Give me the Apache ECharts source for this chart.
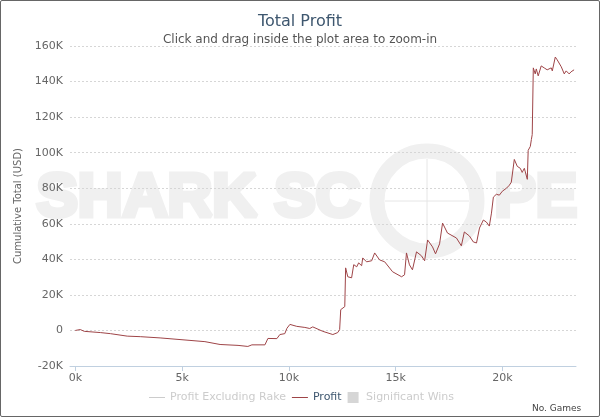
<!DOCTYPE html>
<html>
<head>
<meta charset="utf-8">
<title>Total Profit</title>
<script src="https://cdn.jsdelivr.net/npm/echarts@6/dist/echarts.min.js"></script>
<style>
    html, body { margin: 0; padding: 0; background: #fff; }
    #chart { width: 600px; height: 417px; box-sizing: border-box; border: 1px solid #666; border-radius: 2px; }
</style>
</head>
<body>
<div id="chart"></div>
<script>
// games played (thousands) and cumulative profit (thousands USD)
var gamesK = [0, 0.23, 0.42, 1.17, 1.64, 2.43, 3.04, 3.97, 5.37, 6.07, 6.78, 7.62, 8.08, 8.27, 8.88,
    9.02, 9.44, 9.58, 9.81, 9.91, 10.05, 10.37, 10.75, 10.98, 11.12, 11.59, 12.06, 12.29, 12.38,
    12.43, 12.62, 12.66, 12.76, 12.94, 13.04, 13.18, 13.27, 13.41, 13.46, 13.64, 13.88, 14.02,
    14.25, 14.49, 14.86, 15.28, 15.42, 15.51, 15.65, 15.79, 15.98, 16.21, 16.36, 16.5, 16.73,
    16.87, 17.06, 17.2, 17.43, 17.85, 18.08, 18.22, 18.46, 18.64, 18.79, 18.93, 19.11, 19.25,
    19.39, 19.49, 19.58, 19.72, 19.86, 20.0, 20.19, 20.33, 20.42, 20.56, 20.7, 20.84, 20.93,
    21.03, 21.17, 21.21, 21.31, 21.36, 21.4, 21.45, 21.54, 21.59, 21.68, 21.82, 21.96, 22.1,
    22.29, 22.34, 22.48, 22.57, 22.76, 22.9, 22.99, 23.13, 23.22, 23.36];
var profitK = [0, 0.5, -0.5, -1.2, -1.8, -3.2, -3.5, -4.2, -5.6, -6.3, -7.9, -8.4, -9.0, -8.1, -8.1,
    -4.5, -4.6, -2.3, -1.8, 1.2, 3.4, 2.3, 1.7, 1.1, 2.0, -0.5, -2.3, -1.2, 0.5,
    11.7, 13.4, 35.2, 30.2, 29.6, 37.0, 35.8, 38.0, 36.4, 40.8, 38.6, 39.2, 43.6,
    39.7, 38.6, 33.0, 30.2, 31.3, 43.6, 36.9, 34.1, 44.2, 42.0, 39.2, 50.9, 47.0,
    43.1, 48.7, 60.4, 54.8, 52.0, 47.6, 55.4, 53.1, 49.8, 49.2, 57.6, 62.1, 61.0,
    58.7, 66.0, 75.0, 76.6, 76.1, 78.3, 80.0, 81.7, 83.4, 96.2, 92.3, 91.2, 88.9,
    91.2, 85.0, 101.3, 103.5, 107.4, 110.2, 147.7, 144.3, 147.1, 143.2, 148.8, 147.7, 146.6,
    147.7, 146.0, 153.8, 152.2, 148.3, 144.3, 146.0, 144.3, 145.5, 146.6];
var xTicks = [0, 5, 10, 15, 20];
var seriesNames = ['Profit Excluding Rake', 'Profit', 'Significant Wins'];

var font = '"DejaVu Sans", Verdana, sans-serif';
var wmFont = '"Liberation Sans", Arial, sans-serif';
var wmColor = '#f0f0f0';
var lineIcon = 'path://M0,0h16v1h-16z';

var chart = echarts.init(document.getElementById('chart'));

var profitData = gamesK.map(function (g, i) { return [g, profitK[i]]; });

// watermark text, drawn heavy with a stroke of the same colour
function wmText(str, x) {
    return {
        type: 'text', z: -10, silent: true, left: x, top: 164,
        style: {
            text: str, fill: wmColor, stroke: wmColor, lineWidth: 5,
            fontFamily: wmFont, fontSize: 62, fontWeight: 'bold'
        }
    };
}

var option = {
    animation: false,
    title: {
        text: 'Total Profit',
        subtext: 'Click and drag inside the plot area to zoom-in',
        left: 'center',
        top: 8,
        itemGap: 4,
        textStyle: { fontFamily: font, fontSize: 16, fontWeight: 'normal', color: '#3E576F' },
        subtextStyle: { fontFamily: font, fontSize: 12, color: '#555' }
    },
    grid: { left: 69, right: 23, top: 45, bottom: 50 },
    legend: {
        left: 143,
        top: 386,
        itemWidth: 16,
        itemHeight: 11,
        itemGap: 6,
        inactiveColor: '#ccc',
        textStyle: { fontFamily: font, fontSize: 11, color: '#3E576F' },
        data: [
            { name: seriesNames[0], icon: lineIcon },
            { name: seriesNames[1], icon: lineIcon },
            { name: seriesNames[2], icon: 'path://M0,0h10v10h-10z' }
        ],
        selected: { 'Profit Excluding Rake': false, 'Profit': true, 'Significant Wins': false }
    },
    xAxis: {
        type: 'value',
        min: -0.25,
        max: 23.45,
        splitLine: { show: false },
        axisLine: { onZero: false, lineStyle: { color: '#C0D0E0' } },
        axisTick: { show: true, length: 5, customValues: xTicks, lineStyle: { color: '#C0D0E0' } },
        axisLabel: {
            customValues: xTicks,
            margin: 7,
            fontFamily: font, fontSize: 11, color: '#666',
            formatter: function (v) { return v + 'k'; }
        }
    },
    yAxis: {
        type: 'value',
        min: -20,
        max: 160,
        interval: 20,
        name: 'Cumulative Total (USD)',
        nameLocation: 'middle',
        nameGap: 47,
        nameTextStyle: { fontFamily: font, fontSize: 10, color: '#666' },
        axisLine: { show: false },
        axisTick: { show: false },
        splitLine: { lineStyle: { color: '#d6d6d6', type: [2, 2] } },
        axisLabel: {
            margin: 7,
            fontFamily: font, fontSize: 11, color: '#666',
            formatter: function (v) { return v === 0 ? '0' : v + 'K'; }
        }
    },
    graphic: [
        wmText('SHARK SC', 33),
        wmText('PE', 491),
        { type: 'circle', z: -10, silent: true, shape: { cx: 426, cy: 200, r: 50 },
          style: { fill: 'none', stroke: wmColor, lineWidth: 15 } },
        { type: 'line', z: -10, silent: true, shape: { x1: 426, y1: 158, x2: 426, y2: 242 },
          style: { stroke: '#e6e6e6', lineWidth: 1 } },
        { type: 'line', z: -10, silent: true, shape: { x1: 384, y1: 200, x2: 468, y2: 200 },
          style: { stroke: '#e6e6e6', lineWidth: 1 } },
        { type: 'text', silent: true, left: 531, top: 403,
          style: { text: 'No. Games', fill: '#444', font: '9px "DejaVu Sans", Verdana, sans-serif' } }
    ],
    series: [
        {
            name: seriesNames[0],
            type: 'line',
            symbol: 'none',
            lineStyle: { width: 1, color: '#aaa' },
            itemStyle: { color: '#aaa' },
            data: []
        },
        {
            name: seriesNames[1],
            type: 'line',
            symbol: 'none',
            lineStyle: { width: 1, color: '#9e4447' },
            itemStyle: { color: '#9e4447' },
            data: profitData
        },
        {
            name: seriesNames[2],
            type: 'scatter',
            itemStyle: { color: '#aaa' },
            data: []
        }
    ]
};

chart.setOption(option);
</script>
</body>
</html>
